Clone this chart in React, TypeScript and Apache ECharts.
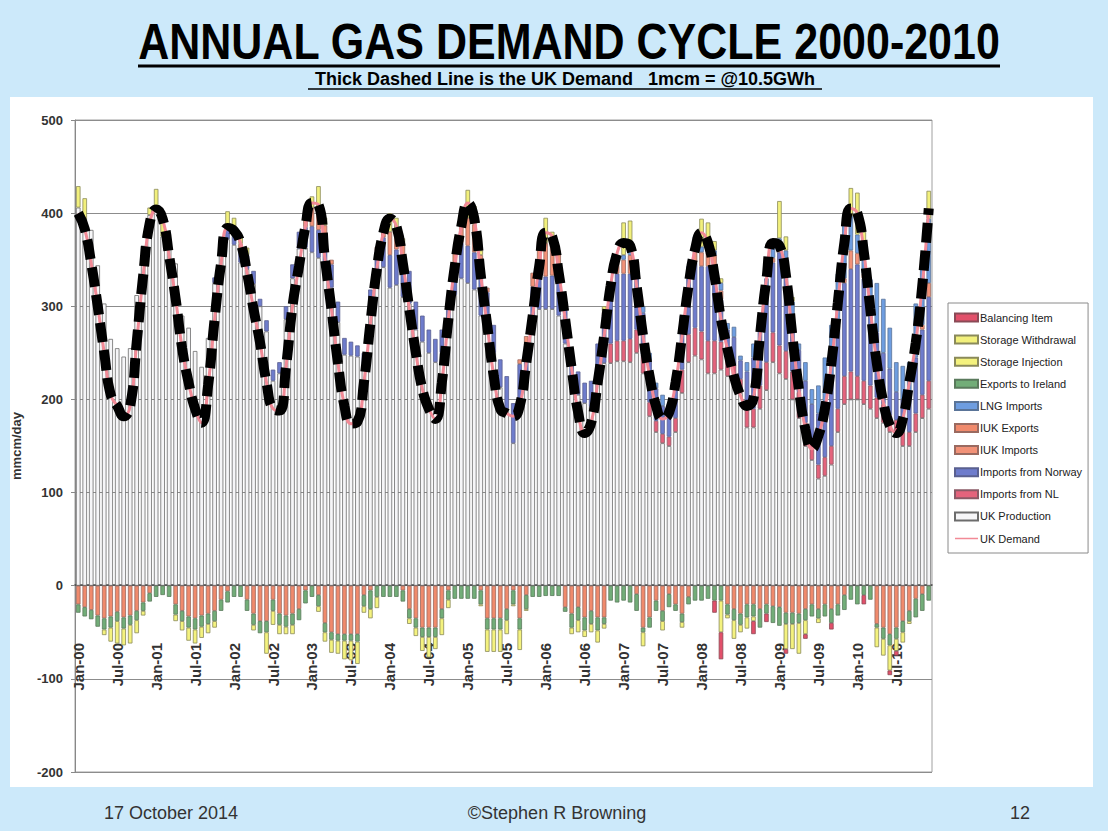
import React, { useEffect, useRef } from "react";
import * as echarts from "echarts";

const monthNames = ["Jan", "Feb", "Mar", "Apr", "May", "Jun", "Jul", "Aug", "Sep", "Oct", "Nov", "Dec"];
const yearCodes = ["00", "01", "02", "03", "04", "05", "06", "07", "08", "09", "10"];
const categories = yearCodes.flatMap((y) => monthNames.map((m) => `${m}-${y}`));

const yTicks = { min: -200, max: 500, step: 100 };

// UK Demand (mcm/day)
const ukDemand = [
  400, 383, 346, 300, 250, 205, 193, 182, 193, 261, 333, 389,
  404, 394, 354, 308, 255, 218, 190, 175, 215, 286, 346, 384,
  381, 368, 336, 297, 261, 218, 190, 188, 235, 300, 343, 386,
  411, 409, 351, 297, 239, 193, 174, 176, 218, 282, 340, 379,
  394, 386, 346, 297, 250, 211, 190, 179, 218, 286, 343, 386,
  411, 394, 333, 279, 225, 190, 185, 182, 193, 239, 290, 343,
  379, 375, 336, 286, 233, 186, 164, 175, 218, 268, 322, 357,
  368, 365, 322, 268, 225, 193, 179, 186, 218, 268, 322, 361,
  379, 368, 333, 286, 254, 225, 204, 193, 201, 268, 329, 368,
  365, 333, 268, 211, 168, 147, 161, 190, 239, 304, 368, 405,
  400, 358, 297, 239, 197, 172, 164, 179, 218, 261, 322, 405,
];

const ukProduction = [
  406, 391, 382, 344, 303, 265, 255, 246, 255, 312, 365, 398,
  405, 375, 366, 346, 290, 277, 252, 235, 266, 325, 364, 372,
  366, 347, 340, 324, 300, 273, 220, 228, 286, 330, 362, 363,
  358, 352, 339, 320, 283, 248, 247, 246, 238, 293, 329, 342,
  320, 323, 310, 303, 275, 262, 250, 240, 250, 280, 312, 330,
  325, 318, 290, 280, 250, 213, 190, 153, 198, 218, 271, 297,
  297, 297, 290, 260, 210, 205, 196, 192, 218, 239, 239, 241,
  241, 240, 250, 228, 182, 165, 153, 150, 165, 207, 240, 247,
  243, 228, 228, 232, 225, 217, 207, 170, 170, 190, 210, 240,
  228, 222, 200, 180, 150, 135, 115, 118, 130, 165, 195, 200,
  200, 195, 190, 180, 175, 165, 160, 150, 150, 165, 180, 190,
];

const importsNL = [
  0, 0, 0, 0, 0, 0, 0, 0, 0, 0, 0, 0,
  0, 0, 0, 0, 0, 0, 0, 0, 0, 0, 0, 0,
  0, 0, 0, 0, 0, 0, 0, 0, 0, 0, 0, 0,
  0, 0, 0, 0, 0, 0, 0, 0, 0, 0, 0, 0,
  0, 0, 0, 0, 0, 0, 0, 0, 0, 0, 0, 0,
  0, 0, 0, 0, 0, 0, 0, 0, 0, 0, 0, 0,
  0, 0, 0, 0, 0, 0, 0, 0, 0, 0, 21, 22,
  22, 25, 25, 20, 15, 12, 10, 10, 15, 25, 30, 30,
  30, 35, 35, 30, 25, 20, 15, 20, 20, 25, 30, 32,
  30, 30, 30, 28, 25, 20, 15, 20, 20, 25, 30, 30,
  25, 25, 25, 22, 20, 18, 18, 15, 15, 20, 25, 30,
];

const importsNorway = [
  0, 0, 0, 0, 0, 0, 0, 0, 0, 0, 0, 0,
  0, 0, 0, 0, 0, 0, 0, 0, 0, 6, 9, 10,
  12, 15, 15, 14, 8, 12, 12, 12, 14, 15, 18, 22,
  28, 30, 28, 25, 22, 18, 15, 12, 12, 25, 30, 32,
  35, 38, 40, 35, 30, 28, 25, 25, 25, 30, 35, 38,
  40, 40, 40, 35, 30, 30, 35, 43, 40, 40, 50, 40,
  35, 36, 35, 40, 40, 25, 22, 28, 42, 50, 55, 72,
  72, 70, 55, 45, 45, 35, 30, 28, 40, 50, 60, 70,
  70, 80, 80, 45, 25, 30, 20, 40, 55, 60, 70, 75,
  100, 90, 60, 45, 45, 40, 55, 60, 75, 90, 100, 110,
  120, 110, 80, 70, 55, 50, 30, 35, 35, 60, 70, 90,
];

const iukImports = [
  0, 0, 0, 0, 0, 0, 0, 0, 0, 0, 0, 0,
  0, 0, 0, 0, 0, 0, 0, 0, 0, 0, 0, 0,
  5, 5, 0, 0, 0, 0, 0, 0, 0, 0, 0, 8,
  20, 25, 20, 5, 0, 0, 0, 0, 0, 0, 5, 12,
  25, 22, 18, 0, 0, 0, 0, 0, 0, 0, 10, 22,
  30, 30, 25, 5, 0, 0, 0, 0, 5, 10, 15, 33,
  36, 35, 35, 5, 0, 0, 0, 0, 0, 5, 10, 15,
  15, 20, 5, 0, 0, 0, 0, 0, 0, 0, 5, 20,
  15, 15, 12, 10, 0, 0, 0, 0, 0, 0, 0, 5,
  10, 8, 0, 0, 0, 0, 0, 0, 0, 0, 5, 20,
  12, 5, 0, 0, 0, 0, 0, 0, 0, 0, 5, 15,
];

const lngImports = [
  0, 0, 0, 0, 0, 0, 0, 0, 0, 0, 0, 0,
  0, 0, 0, 0, 0, 0, 0, 0, 0, 0, 0, 0,
  0, 0, 0, 0, 0, 0, 0, 0, 0, 0, 0, 0,
  0, 0, 0, 0, 0, 0, 0, 0, 0, 0, 0, 0,
  0, 0, 0, 0, 0, 0, 0, 0, 0, 0, 0, 0,
  0, 0, 0, 0, 0, 0, 0, 0, 0, 0, 0, 0,
  0, 0, 0, 0, 0, 0, 0, 0, 0, 0, 0, 0,
  5, 5, 0, 7, 8, 6, 12, 7, 10, 8, 8, 8,
  6, 6, 5, 8, 7, 11, 5, 10, 15, 15, 20, 13,
  5, 10, 15, 7, 20, 16, 30, 47, 55, 55, 60, 37,
  20, 30, 34, 53, 58, 44, 32, 36, 40, 58, 60, 69,
];

const storageWithdrawal = [
  23, 25, 0, 0, 0, 0, 0, 0, 0, 0, 0, 8,
  21, 24, 0, 0, 0, 0, 0, 0, 0, 0, 0, 20,
  12, 10, 8, 0, 0, 0, 0, 0, 0, 0, 0, 12,
  12, 22, 8, 0, 0, 0, 0, 0, 0, 0, 0, 5,
  20, 12, 5, 0, 0, 0, 0, 0, 0, 0, 0, 10,
  30, 20, 5, 0, 0, 0, 0, 0, 0, 0, 0, 0,
  27, 12, 0, 0, 0, 0, 0, 0, 0, 6, 0, 5,
  35, 32, 0, 0, 0, 0, 0, 0, 0, 0, 0, 0,
  30, 26, 10, 5, 0, 0, 0, 0, 0, 0, 0, 0,
  40, 15, 5, 0, 0, 0, 0, 0, 0, 0, 0, 30,
  45, 15, 0, 0, 0, 0, 0, 0, 0, 0, 0, 30,
];

const iukExports = [
  -20, -23, -26, -32, -35, -33, -28, -34, -32, -27, -18, -8,
  0, 0, 0, -20, -27, -33, -35, -32, -30, -27, -15, -6,
  0, 0, -15, -30, -38, -38, -15, -30, -32, -30, -25, -5,
  0, -10, -40, -50, -52, -52, -52, -52, -10, -5, 0, 0,
  0, 0, -5, -25, -35, -45, -45, -45, -25, -5, 0, 0,
  0, 0, -5, -35, -35, -35, -25, -5, -35, -10, 0, 0,
  0, 0, 0, -23, -30, -23, -34, -27, -34, -34, 0, 0,
  0, 0, -9, -45, -34, -16, -27, -9, -20, -30, -12, 0,
  0, 0, 0, 0, -20, -25, -30, -20, -20, -25, -20, -22,
  -23, -29, -29, -30, -25, -20, -25, -20, -25, -20, -10, 0,
  0, 0, 0, -41, -45, -52, -45, -38, -27, -14, -9, 0,
];

const exportsIreland = [
  -9, -10, -10, -12, -12, -12, -10, -12, -10, -10, -9, -9,
  -12, -10, -12, -11, -11, -12, -12, -12, -11, -11, -12, -12,
  -12, -12, -12, -12, -13, -12, -12, -12, -12, -12, -12, -14,
  -12, -12, -10, -8, -7, -7, -7, -8, -12, -20, -12, -12,
  -12, -12, -12, -10, -10, -10, -10, -10, -10, -10, -14, -14,
  -14, -14, -15, -12, -12, -12, -12, -15, -12, -15, -12, -12,
  -11, -11, -11, -5, -15, -14, -14, -14, -14, -7, -16, -18,
  -16, -18, -18, -5, -11, -11, -11, -14, -7, -9, -8, -16,
  -16, -14, -16, -16, -11, -12, -12, -14, -13, -20, -10, -18,
  -20, -12, -12, -10, -12, -13, -10, -13, -15, -12, -16, -15,
  -20, -10, -15, -4, -12, -12, -12, -12, -11, -20, -18, -16,
];

const storageInjection = [
  0, 0, 0, 0, -6, -15, -24, -18, -20, -14, -5, 0,
  0, 0, 0, -7, -10, -14, -15, -12, -10, -7, 0, 0,
  0, 0, 0, -6, 0, -23, -15, -10, -8, -10, 0, 0,
  0, -6, -10, -14, -14, -20, -21, -24, -7, -10, -12, 0,
  0, 0, 0, -6, -9, -15, -22, -13, -18, -9, 0, 0,
  0, 0, -2, -24, -24, -24, -15, -2, -22, -2, 0, 0,
  0, 0, 0, 0, -7, -13, -7, -9, -13, -5, 0, 0,
  0, 0, 0, -15, 0, 0, -10, 0, 0, -6, 0, 0,
  0, 0, 0, -34, -4, -20, -8, -12, -5, 0, 0, 0,
  0, -27, -27, -33, -15, 0, -5, 0, 0, 0, 0, 0,
  0, 0, 0, -21, -18, -27, -13, -11, -3, 0, 0, 0,
];

const balancingItem = [
  0, 0, 0, 0, 0, 0, 0, 0, 0, 0, 0, 0,
  0, 0, 0, 0, 0, 0, 0, 0, 0, 0, 0, 0,
  0, 0, 0, 0, 0, 0, 0, 0, 0, 0, 0, 0,
  0, 0, 0, 0, 0, 0, 0, 0, 0, 0, 0, 0,
  0, 0, 0, 0, 0, 0, 0, 0, 0, 0, 0, 0,
  0, 0, 0, 0, 0, 0, 0, 0, 0, 0, 0, 0,
  0, 0, 0, 0, 0, 0, 0, 0, 0, 0, 0, 0,
  0, 0, 0, 0, 0, 0, 0, 0, 0, 0, 0, 0,
  0, 0, -13, -29, 0, 0, 0, 0, -14, 0, -9, 0,
  0, -5, 0, 0, -5, 0, 0, 0, -7, 0, 0, 0,
  0, -10, 0, 0, 0, -5, -5, 0, 0, 0, 0, 0,
];

const legendOrder = [
  "Balancing Item",
  "Storage Withdrawal",
  "Storage Injection",
  "Exports to Ireland",
  "LNG Imports",
  "IUK Exports",
  "IUK Imports",
  "Imports from Norway",
  "Imports from NL",
  "UK Production",
  "UK Demand",
];

const FONT = "'Liberation Sans', Arial, sans-serif";
const LINE_ICON = "path://M0,0L0.01,0M0,3.2L24,3.2L24,5L0,5ZM0,8.2L0.01,8.2";

function nz(arr: number[]) {
  return arr.map((v) => (v === 0 ? null : v));
}

function barSeries(name: string, data: number[], color: string, border: string) {
  return {
    name,
    type: "bar",
    stack: "gas",
    stackStrategy: "samesign",
    barCategoryGap: "30%",
    data: nz(data),
    itemStyle: { color, borderColor: border, borderWidth: 0.8 },
    emphasis: { disabled: true },
  };
}

export default function App() {
  const ref = useRef<HTMLDivElement>(null);

  useEffect(() => {
    document.body.style.margin = "0";
    if (!ref.current) return;
    const chart = echarts.init(ref.current, null, { renderer: "svg" });
    const option: any = {
      animation: false,
      backgroundColor: "transparent",
      textStyle: { fontFamily: FONT },
      grid: {
        left: 75,
        right: 176,
        top: 120,
        bottom: 59,
        containLabel: false,
        outerBoundsMode: "none",
        show: true,
        backgroundColor: "#ffffff",
        borderColor: "#a0a0a0",
        borderWidth: 1,
      },
      legend: {
        orient: "vertical",
        left: 948,
        top: 303,
        data: legendOrder.map((n) =>
          n === "UK Demand" ? { name: n, icon: LINE_ICON } : { name: n, icon: "rect" }
        ),
        itemWidth: 23,
        itemHeight: 8,
        itemGap: 11.1,
        padding: [9, 6, 9, 6],
        borderColor: "#8a8a8a",
        borderWidth: 1,
        backgroundColor: "#ffffff",
        textStyle: { fontSize: 11, color: "#222", fontFamily: FONT, padding: [0, 0, 0, -3] },
      },
      xAxis: {
        type: "category",
        data: categories,
        position: "bottom",
        offset: -187,
        axisLine: { onZero: false, lineStyle: { color: "#444", width: 1.5 } },
        axisTick: { show: false },
        axisLabel: {
          interval: 5,
          rotate: 90,
          margin: 58,
          fontSize: 15,
          fontWeight: "bold",
          color: "#333",
          fontFamily: FONT,
        },
        splitLine: { show: false },
      },
      yAxis: {
        type: "value",
        min: yTicks.min,
        max: yTicks.max,
        interval: yTicks.step,
        name: "mmcm/day",
        nameLocation: "middle",
        nameGap: 52,
        nameTextStyle: { fontSize: 13, fontWeight: "bold", color: "#333", fontFamily: FONT },
        axisLine: { show: true, lineStyle: { color: "#888" } },
        axisTick: { show: true, length: 4, lineStyle: { color: "#888" } },
        axisLabel: { fontSize: 13, fontWeight: "bold", color: "#333", margin: 12, fontFamily: FONT },
        splitLine: { show: true, lineStyle: { color: "#8c8c8c", width: 1 } },
      },
      series: [
        barSeries("UK Production", ukProduction, "#f6f6f8", "#6c6c6c"),
        barSeries("Imports from NL", importsNL, "#e4637c", "#8a5a66"),
        barSeries("Imports from Norway", importsNorway, "#6e7ccc", "#5a6090"),
        barSeries("IUK Imports", iukImports, "#f29278", "#9a6a60"),
        barSeries("LNG Imports", lngImports, "#6e9de0", "#5a7498"),
        barSeries("Storage Withdrawal", storageWithdrawal, "#f2f07c", "#8a8a5a"),
        barSeries("IUK Exports", iukExports, "#f08a6c", "#9a6a60"),
        barSeries("Exports to Ireland", exportsIreland, "#72ad78", "#5a7a5c"),
        barSeries("Storage Injection", storageInjection, "#f4f27e", "#8a8a5a"),
        barSeries("Balancing Item", balancingItem, "#e2506a", "#8a4a56"),
        {
          name: "UK Demand",
          type: "line",
          data: ukDemand,
          smooth: 0.5,
          symbol: "none",
          lineStyle: { color: "#f28a96", width: 3 },
          itemStyle: { color: "#f28a96" },
          z: 5,
        },
        {
          name: "Thick Dashed",
          type: "line",
          data: ukDemand,
          smooth: 0.5,
          symbol: "none",
          lineStyle: { color: "#000000", width: 10, type: [20, 8], cap: "butt" },
          z: 6,
          silent: true,
        },
      ],
      graphic: [
        {
          type: "text",
          x: 569,
          y: 42,
          scaleX: 0.86,
          style: {
            text: "ANNUAL GAS DEMAND CYCLE 2000-2010",
            fontSize: 50,
            fontWeight: "bold",
            fontFamily: FONT,
            fill: "#000",
            textAlign: "center",
            textVerticalAlign: "middle",
          },
        },
        { type: "line", shape: { x1: 138, y1: 66, x2: 1000, y2: 66 }, style: { stroke: "#000", lineWidth: 3 } },
        {
          type: "text",
          x: 565,
          y: 79,
          style: {
            text: "Thick Dashed Line is the UK Demand\u00a0\u00a0\u00a01mcm = @10.5GWh",
            fontSize: 18,
            fontWeight: "bold",
            fontFamily: FONT,
            fill: "#000",
            textAlign: "center",
            textVerticalAlign: "middle",
          },
        },
        { type: "line", shape: { x1: 308, y1: 89, x2: 822, y2: 89 }, style: { stroke: "#000", lineWidth: 1.5 } },
        {
          type: "text",
          x: 104,
          y: 813,
          style: { text: "17 October 2014", fontSize: 18, fontFamily: FONT, fill: "#333", textVerticalAlign: "middle" },
        },
        {
          type: "text",
          x: 557,
          y: 813,
          style: { text: "©Stephen R Browning", fontSize: 18, fontFamily: FONT, fill: "#333", textAlign: "center", textVerticalAlign: "middle" },
        },
        {
          type: "text",
          x: 1010,
          y: 813,
          style: { text: "12", fontSize: 18, fontFamily: FONT, fill: "#333", textVerticalAlign: "middle" },
        },
      ],
    };
    chart.setOption(option);
    return () => chart.dispose();
  }, []);

  return (
    <div style={{ position: "fixed", left: 0, top: 0, width: 1108, height: 831, background: "#cce9fa" }}>
      <div style={{ position: "absolute", left: 10, top: 97, width: 1083, height: 690, background: "#ffffff" }} />
      <div ref={ref} style={{ position: "absolute", left: 0, top: 0, width: 1108, height: 831 }} />
    </div>
  );
}
